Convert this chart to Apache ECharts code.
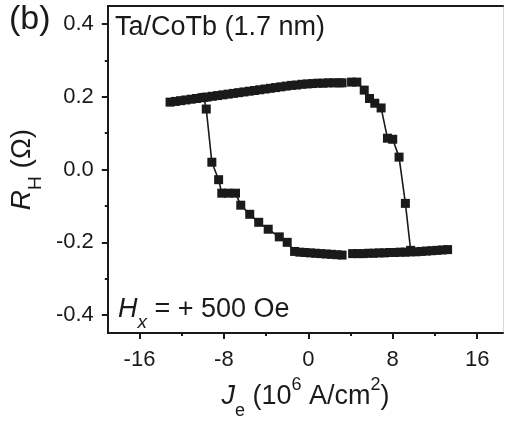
<!DOCTYPE html>
<html>
<head>
<meta charset="utf-8">
<script src="https://cdn.jsdelivr.net/npm/echarts@6/dist/echarts.min.js"></script>
<style>
html,body{margin:0;padding:0;background:#fff;}
#chart{width:506px;height:425px;}
</style>
</head>
<body>
<div id="chart"></div>
<script>
// Sweep 1: top branch -> switching down on the right -> bottom branch (right part)
const J1 = [4.1, 4.6, 5.3, 5.8, 6.3, 6.9, 7.5, 8.0, 8.6, 9.2, 9.7, 13.2, 12.7, 12.2, 11.7, 11.2, 10.7, 10.2, 9.7, 9.2, 8.7, 8.2, 7.7, 7.2, 6.7, 6.2, 5.7, 5.2, 4.7, 4.2];
const R1 = [0.240, 0.240, 0.218, 0.195, 0.182, 0.169, 0.086, 0.083, 0.034, -0.093, -0.222, -0.220, -0.221, -0.222, -0.223, -0.224, -0.225, -0.226, -0.226, -0.227, -0.227, -0.228, -0.228, -0.229, -0.229, -0.230, -0.230, -0.231, -0.231, -0.231];
// Sweep 2: bottom branch (left part) -> switching up on the left -> top branch
const J2 = [3.2, 2.7, 2.2, 1.7, 1.2, 0.7, 0.2, -0.3, -0.8, -1.3, -2.0, -2.75, -3.8, -4.7, -5.55, -6.4, -6.9, -7.6, -8.2, -8.5, -9.14, -9.67, -9.9,
  -13.1, -12.6, -12.1, -11.6, -11.1, -10.6, -10.1, -9.6, -9.1, -8.6, -8.1, -7.6, -7.1, -6.6, -6.1, -5.6, -5.1, -4.6, -4.1, -3.6, -3.1, -2.6, -2.1, -1.6, -1.1, -0.6, -0.1, 0.4, 0.9, 1.4, 1.9, 2.4, 2.9, 3.2];
const R2 = [-0.235, -0.234, -0.233, -0.232, -0.231, -0.230, -0.229, -0.228, -0.227, -0.225, -0.200, -0.185, -0.164, -0.145, -0.123, -0.098, -0.065, -0.065, -0.065, -0.028, 0.020, 0.166, 0.198,
  0.185, 0.187, 0.189, 0.191, 0.193, 0.195, 0.197, 0.199, 0.201, 0.203, 0.205, 0.207, 0.209, 0.211, 0.213, 0.215, 0.217, 0.219, 0.221, 0.223, 0.225, 0.227, 0.229, 0.231, 0.232, 0.234, 0.235, 0.236, 0.237, 0.237, 0.238, 0.238, 0.238, 0.238];

const xTicks = [-16, -8, 0, 8, 16];
const xMinor = [-12, -4, 4, 12];
const yTicks = [-0.4, -0.2, 0.0, 0.2, 0.4];
const yMinor = [-0.3, -0.1, 0.1, 0.3];

const FONT = 'Liberation Sans, Arial, sans-serif';
const INK = '#1a1a1a';
const X_MIN = -19, X_MAX = 18.45, Y_MIN = -0.449, Y_MAX = 0.449;

const chart = echarts.init(document.getElementById('chart'), null, {renderer: 'canvas'});

function pairs(xs, ys) { return xs.map((x, i) => [x, ys[i]]); }

const option = {
  backgroundColor: '#fff',
  animation: false,
  grid: {left: 103, right: 3, top: 6, bottom: 82, containLabel: false},
  xAxis: [
    {
      type: 'value', min: X_MIN, max: X_MAX, position: 'bottom',
      axisLine: {show: true, onZero: false, lineStyle: {color: INK, width: 2}},
      axisTick: {show: true, inside: false, length: 6, customValues: xTicks, lineStyle: {color: INK, width: 2}},
      axisLabel: {show: true, customValues: xTicks, margin: 16, fontSize: 22, fontFamily: FONT, color: INK,
        formatter: v => String(Math.round(v))},
      splitLine: {show: false},
      name: '{i|J}{sub|e}{n| (10}{sup|6}{n| A/cm}{sup|2}{n|)}',
      nameLocation: 'middle', nameGap: 47,
      nameTextStyle: {
        fontFamily: FONT, color: INK, fontSize: 27,
        rich: {
          i: {fontFamily: FONT, fontSize: 27, fontStyle: 'italic', color: INK, verticalAlign: 'bottom', lineHeight: 30},
          n: {fontFamily: FONT, fontSize: 27, color: INK, verticalAlign: 'bottom', lineHeight: 30},
          sub: {fontFamily: FONT, fontSize: 18, color: INK, verticalAlign: 'bottom', lineHeight: 30, padding: [0, 0, -10, 0]},
          sup: {fontFamily: FONT, fontSize: 18, color: INK, verticalAlign: 'top', lineHeight: 30, padding: [-4, 0, 0, 0]}
        }
      }
    },
    {
      type: 'value', min: X_MIN, max: X_MAX, position: 'bottom',
      axisLine: {show: false, onZero: false},
      axisTick: {show: true, inside: false, length: 3, customValues: xMinor, lineStyle: {color: INK, width: 2}},
      axisLabel: {show: false}, splitLine: {show: false}
    },
    {
      type: 'value', min: X_MIN, max: X_MAX, position: 'top',
      axisLine: {show: true, onZero: false, lineStyle: {color: INK, width: 2}},
      axisTick: {show: false}, axisLabel: {show: false}, splitLine: {show: false}
    }
  ],
  yAxis: [
    {
      type: 'value', min: Y_MIN, max: Y_MAX, position: 'left',
      axisLine: {show: true, onZero: false, lineStyle: {color: INK, width: 2}},
      axisTick: {show: true, inside: false, length: 6, customValues: yTicks, lineStyle: {color: INK, width: 2}},
      axisLabel: {show: true, customValues: yTicks, margin: 14, fontSize: 22, fontFamily: FONT, color: INK,
        formatter: v => v.toFixed(1)},
      splitLine: {show: false},
      name: '{i|R}{sub|H}{n| (Ω)}',
      nameLocation: 'middle', nameGap: 62, nameRotate: 90,
      nameTextStyle: {
        fontFamily: FONT, color: INK, fontSize: 28,
        rich: {
          i: {fontFamily: FONT, fontSize: 28, fontStyle: 'italic', color: INK, verticalAlign: 'bottom', lineHeight: 30},
          n: {fontFamily: FONT, fontSize: 28, color: INK, verticalAlign: 'bottom', lineHeight: 30},
          sub: {fontFamily: FONT, fontSize: 19, color: INK, verticalAlign: 'bottom', lineHeight: 30, padding: [0, 0, -9, 0]}
        }
      }
    },
    {
      type: 'value', min: Y_MIN, max: Y_MAX, position: 'left',
      axisLine: {show: false, onZero: false},
      axisTick: {show: true, inside: false, length: 3, customValues: yMinor, lineStyle: {color: INK, width: 2}},
      axisLabel: {show: false}, splitLine: {show: false}
    },
    {
      type: 'value', min: Y_MIN, max: Y_MAX, position: 'right',
      axisLine: {show: true, onZero: false, lineStyle: {color: '#d8d8d8', width: 1}},
      axisTick: {show: false}, axisLabel: {show: false}, splitLine: {show: false}
    }
  ],
  graphic: [
    {type: 'text', left: 9, top: 3, style: {text: '(b)', font: '34px ' + FONT, fill: INK}},
    {type: 'text', left: 115, top: 14, style: {text: 'Ta/CoTb (1.7 nm)', font: '27px ' + FONT, fill: INK}},
    {type: 'text', left: 118, top: 296, style: {
      text: '{i|H}{sub|x}{n| = + 500 Oe}',
      rich: {
        i: {fontFamily: FONT, fontSize: 27, fontStyle: 'italic', fill: INK, verticalAlign: 'bottom', lineHeight: 32},
        n: {fontFamily: FONT, fontSize: 27, fill: INK, verticalAlign: 'bottom', lineHeight: 32},
        sub: {fontFamily: FONT, fontSize: 19, fontStyle: 'italic', fill: INK, verticalAlign: 'bottom', lineHeight: 32, padding: [0, 0, -9, 0]}
      }
    }}
  ],
  series: [
    {
      type: 'line', xAxisIndex: 0, yAxisIndex: 0, data: pairs(J1, R1),
      symbol: 'rect', symbolSize: 9, showSymbol: true,
      lineStyle: {color: INK, width: 1.6}, itemStyle: {color: INK, borderWidth: 0}
    },
    {
      type: 'line', xAxisIndex: 0, yAxisIndex: 0, data: pairs(J2, R2),
      symbol: 'rect', symbolSize: 9, showSymbol: true,
      lineStyle: {color: INK, width: 1.6}, itemStyle: {color: INK, borderWidth: 0}
    }
  ]
};
chart.setOption(option);
</script>
</body>
</html>
